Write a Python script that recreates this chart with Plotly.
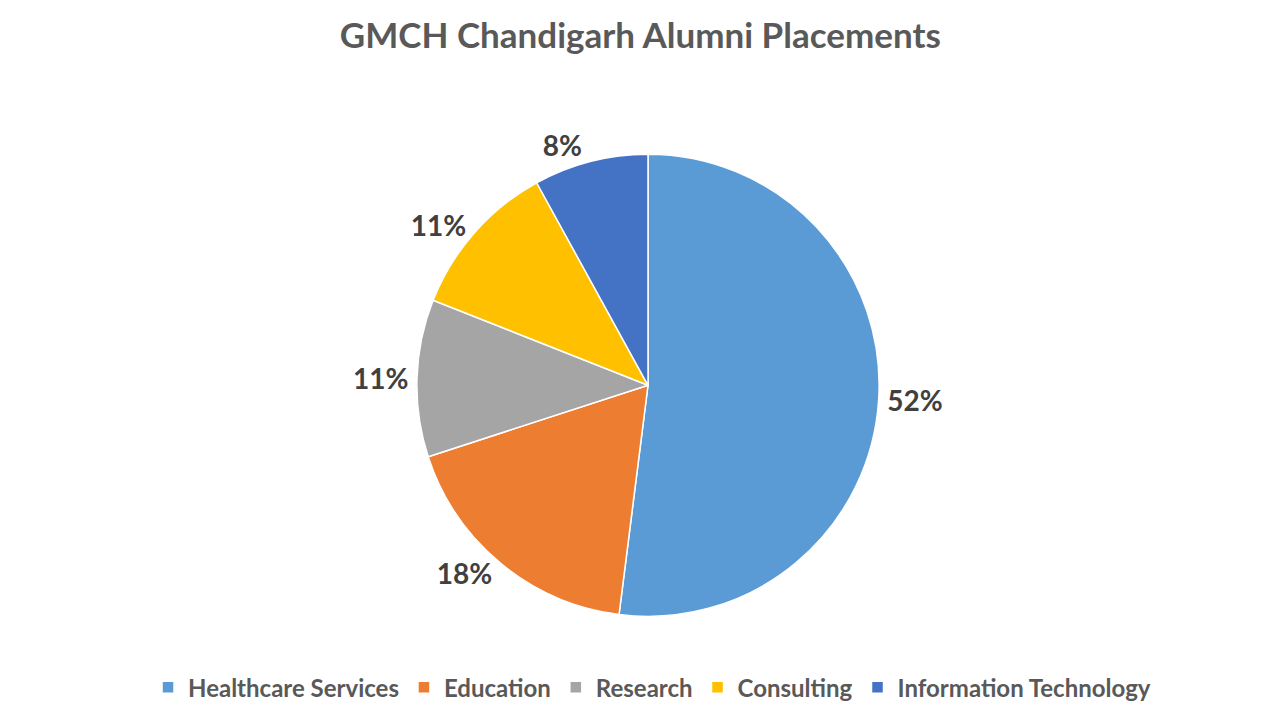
import plotly.graph_objects as go

sectors = ['Healthcare Services', 'Education', 'Research', 'Consulting', 'Information Technology']
shares = [52, 18, 11, 11, 8]
colours = ['#5B9BD5', '#ED7D31', '#A5A5A5', '#FFC000', '#4472C4']

fig = go.Figure(
    go.Pie(
        labels=sectors,
        values=shares,
        sort=False,
        direction='clockwise',
        rotation=0,
        marker=dict(colors=colours, line=dict(color='white', width=1.5)),
        texttemplate='%{value}%',
        textposition='outside',
        textfont=dict(family='Lato', size=28, color='#404040', weight='bold'),
        hoverinfo='label+percent',
        domain=dict(x=[0.1, 0.9], y=[0.155, 0.797]),
    )
)

fig.update_layout(
    width=1280,
    height=720,
    paper_bgcolor='white',
    plot_bgcolor='white',
    margin=dict(l=0, r=16, t=0, b=0),
    title=dict(
        text='<b>GMCH Chandigarh Alumni Placements</b>',
        x=0.494, xanchor='center',
        y=0.962, yanchor='middle',
        font=dict(family='Lato', size=35, color='#595959'),
    ),
    showlegend=True,
    legend=dict(
        orientation='h',
        x=0.504, xanchor='center',
        y=0.056, yanchor='middle',
        font=dict(family='Lato', size=24, color='#595959', weight='bold'),
        traceorder='normal',
    ),
)

fig.write_html('out.html')
